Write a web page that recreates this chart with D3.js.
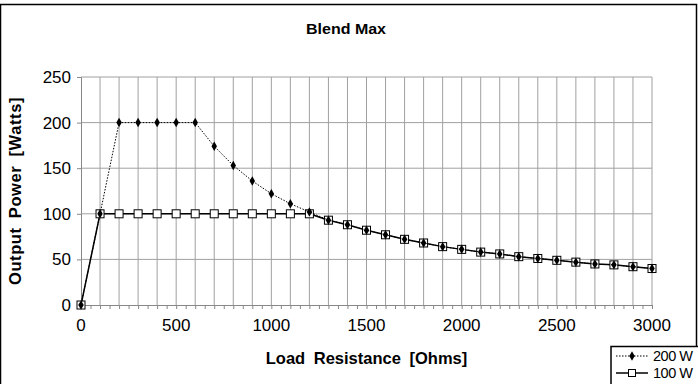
<!DOCTYPE html>
<html>
<head>
<meta charset="utf-8">
<script src="https://cdn.jsdelivr.net/npm/d3@7"></script>
<style>
  body { margin: 0; background: #fff; }
  svg text { font-family: "Liberation Sans", Arial, sans-serif; }
</style>
</head>
<body>
<div id="chart"></div>
<script>
const w = 698;
const h = 384;

// Load resistance in ohms
const loads = [0,100,200,300,400,500,600,700,800,900,1000,1100,1200,1300,1400,1500,1600,1700,1800,1900,2000,2100,2200,2300,2400,2500,2600,2700,2800,2900,3000];
// output power, watts
const watts200 = [0,100,200,200,200,200,200,174,153,136,122,111,102,93,88,82,77,72,68,64,61,58,56,53,51,49,47,45,44,42,40];
const watts100 = [0,100,100,100,100,100,100,100,100,100,100,100,100,93,88,82,77,72,68,64,61,58,56,53,51,49,47,45,44,42,40];
const yTicks = [0,50,100,150,200,250];
const xTicks = [0,500,1000,1500,2000,2500,3000];

const m = {left: 81, right: 46, top: 77, bottom: 79};

const svg = d3.select('#chart').append('svg')
  .attr('width', w).attr('height', h);

// outer frame
svg.append('rect')
  .attr('x', 0.5).attr('y', 4.5)
  .attr('width', w - 2).attr('height', h + 10)
  .attr('fill', 'none').attr('stroke', '#000').attr('stroke-width', 1.5);

const x = d3.scaleLinear().domain([0, 3000]).range([m.left, w - m.right]);
const y = d3.scaleLinear().domain([0, 250]).range([h - m.bottom, m.top]);

//Gridlines
const grid = svg.append('g');
grid.selectAll('.vg').data(d3.range(100, 3001, 100)).enter()
  .append('line')
  .attr('x1', d => x(d)).attr('x2', d => x(d))
  .attr('y1', y(0)).attr('y2', y(250))
  .attr('stroke', '#a0a0a0').attr('stroke-width', 1);
grid.selectAll('.hg').data(yTicks.slice(1)).enter()
  .append('line')
  .attr('x1', x(0)).attr('x2', x(3000))
  .attr('y1', d => y(d)).attr('y2', d => y(d))
  .attr('stroke', '#a0a0a0').attr('stroke-width', 1);

//Axes
const xAxis = svg.append('g')
  .attr('transform', `translate(0,${y(0)})`)
  .call(d3.axisBottom(x).tickValues(d3.range(0, 3001, 50)).tickSize(4).tickFormat(''));
xAxis.select('.domain').attr('stroke', '#888');
xAxis.selectAll('.tick line').attr('stroke', '#888');

svg.append('g').selectAll('text').data(xTicks).enter()
  .append('text')
  .attr('x', d => x(d)).attr('y', y(0) + 26)
  .attr('text-anchor', 'middle')
  .attr('font-size', 17)
  .text(d => d);

const yAxis = svg.append('g')
  .attr('transform', `translate(${x(0)},0)`)
  .call(d3.axisLeft(y).tickValues(yTicks).tickSize(4).tickPadding(6));
yAxis.select('.domain').attr('stroke', '#888');
yAxis.selectAll('.tick line').attr('stroke', '#888');
yAxis.selectAll('.tick text')
  .attr('font-size', 17)
  .attr('font-family', '"Liberation Sans", Arial, sans-serif')
  .attr('fill', '#000');

//Titles
svg.append('text')
  .attr('x', 346).attr('y', 34)
  .attr('text-anchor', 'middle')
  .attr('font-size', 15).attr('font-weight', 'bold')
  .attr('textLength', 80).attr('lengthAdjust', 'spacingAndGlyphs')
  .text('Blend Max');

svg.append('text')
  .attr('x', (x(0) + x(3000)) / 2).attr('y', 364)
  .attr('text-anchor', 'middle')
  .attr('font-size', 16.5).attr('font-weight', 'bold')
  .attr('word-spacing', 4)
  .text('Load Resistance [Ohms]');

svg.append('text')
  .attr('transform', `translate(21,${(y(0) + y(250)) / 2}) rotate(-90)`)
  .attr('text-anchor', 'middle')
  .attr('font-size', 16.5).attr('font-weight', 'bold')
  .attr('word-spacing', 4).attr('letter-spacing', 0.6)
  .text('Output Power [Watts]');

//Series
const line = d3.line().x(d => x(d[0])).y(d => y(d[1]));
const s200 = loads.map((d, i) => [d, watts200[i]]);
const s100 = loads.map((d, i) => [d, watts100[i]]);

svg.append('path').datum(s100)
  .attr('d', line).attr('fill', 'none')
  .attr('stroke', '#000').attr('stroke-width', 1.5);
svg.selectAll('.sq').data(s100).enter()
  .append('rect')
  .attr('x', d => x(d[0]) - 4).attr('y', d => y(d[1]) - 4)
  .attr('width', 8).attr('height', 8)
  .attr('fill', '#fff').attr('stroke', '#000').attr('stroke-width', 1);

svg.append('path').datum(s200)
  .attr('d', line).attr('fill', 'none')
  .attr('stroke', '#000').attr('stroke-width', 1)
  .attr('stroke-dasharray', '1.5,1.5');
const diamond = d3.symbol().type(d3.symbolDiamond).size(26);
svg.selectAll('.dm').data(s200).enter()
  .append('path')
  .attr('d', diamond)
  .attr('transform', d => `translate(${x(d[0])},${y(d[1])})`)
  .attr('fill', '#000');

//Legend
const legend = svg.append('g').attr('id', 'legend');
legend.append('rect')
  .attr('x', 611).attr('y', 346.5)
  .attr('width', 90).attr('height', 50)
  .attr('fill', '#fff').attr('stroke', '#000').attr('stroke-width', 1.5);
legend.append('line')
  .attr('x1', 616).attr('x2', 648).attr('y1', 356).attr('y2', 356)
  .attr('stroke', '#000').attr('stroke-dasharray', '1.5,1.5');
legend.append('path').attr('d', diamond)
  .attr('transform', 'translate(632,356)').attr('fill', '#000');
legend.append('line')
  .attr('x1', 616).attr('x2', 648).attr('y1', 373).attr('y2', 373)
  .attr('stroke', '#000').attr('stroke-width', 1.5);
legend.append('rect')
  .attr('x', 628.5).attr('y', 369.5).attr('width', 7).attr('height', 7)
  .attr('fill', '#fff').attr('stroke', '#000');
legend.append('text').attr('x', 653).attr('y', 361)
  .attr('font-size', 14.5).attr('letter-spacing', -0.5).text('200 W');
legend.append('text').attr('x', 653).attr('y', 378)
  .attr('font-size', 14.5).attr('letter-spacing', -0.5).text('100 W');
</script>
</body>
</html>
